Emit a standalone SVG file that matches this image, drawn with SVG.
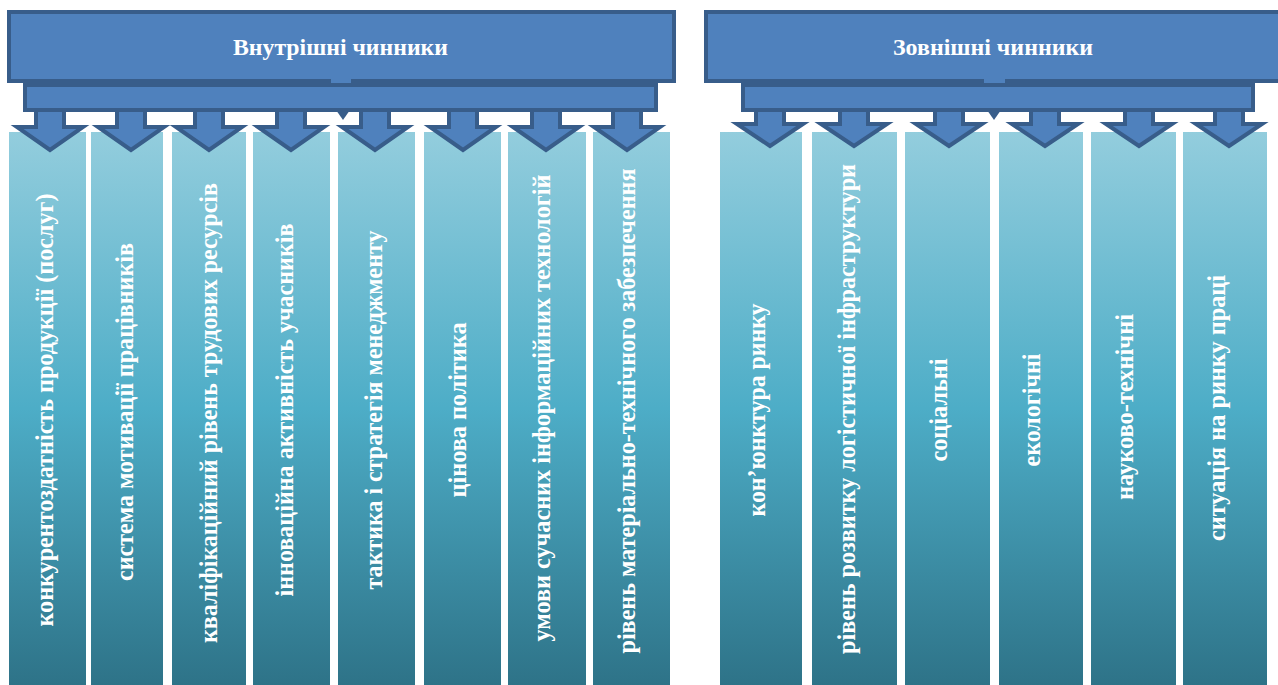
<svg xmlns="http://www.w3.org/2000/svg" width="1278" height="685" viewBox="0 0 1278 685">
<defs>
<linearGradient id="colGrad" x1="0" y1="0" x2="0" y2="1">
<stop offset="0" stop-color="#93CDDD"/>
<stop offset="0.5" stop-color="#4DADC7"/>
<stop offset="1" stop-color="#2E7388"/>
</linearGradient>
<style>
.hdr{fill:#4F81BD;stroke:#385D8A;stroke-width:4}
.tab{fill:#4F81BD}
.notch{fill:#385D8A}
.arr{fill:#4F81BD;stroke:#385D8A;stroke-width:4;stroke-linejoin:miter}
.col{fill:url(#colGrad)}
.ttl{font-family:"Liberation Serif","Times New Roman",serif;font-weight:bold;font-size:24px;fill:#FFFFFF;text-anchor:middle}
.vt{font-family:"Liberation Serif","Times New Roman",serif;font-weight:bold;font-size:25px;fill:#FFFFFF;text-anchor:middle}
</style>
</defs>
<rect width="1278" height="685" fill="#FFFFFF"/>

<!-- Columns (internal factors) -->
<g id="col-l1"><rect class="col" x="9" y="132" width="77" height="553"/><text class="vt" transform="translate(53,410) rotate(-90)" textLength="433" lengthAdjust="spacingAndGlyphs">конкурентоздатність продукції (послуг)</text></g>
<g id="col-l2"><rect class="col" x="91" y="132" width="72" height="553"/><text class="vt" transform="translate(133,412) rotate(-90)" textLength="338" lengthAdjust="spacingAndGlyphs">система мотивації працівників</text></g>
<g id="col-l3"><rect class="col" x="172" y="132" width="74" height="553"/><text class="vt" transform="translate(217,413) rotate(-90)" textLength="460" lengthAdjust="spacingAndGlyphs">кваліфікаційний рівень трудових ресурсів</text></g>
<g id="col-l4"><rect class="col" x="253" y="132" width="77" height="553"/><text class="vt" transform="translate(293,410) rotate(-90)" textLength="373" lengthAdjust="spacingAndGlyphs">інноваційна активність учасників</text></g>
<g id="col-l5"><rect class="col" x="338" y="132" width="77" height="553"/><text class="vt" transform="translate(382,410) rotate(-90)" textLength="359" lengthAdjust="spacingAndGlyphs">тактика і стратегія менеджменту</text></g>
<g id="col-l6"><rect class="col" x="424" y="132" width="77" height="553"/><text class="vt" transform="translate(466,410) rotate(-90)" textLength="175" lengthAdjust="spacingAndGlyphs">цінова політика</text></g>
<g id="col-l7"><rect class="col" x="508" y="132" width="78" height="553"/><text class="vt" transform="translate(550,408) rotate(-90)" textLength="467" lengthAdjust="spacingAndGlyphs">умови сучасних інформаційних технологій</text></g>
<g id="col-l8"><rect class="col" x="593" y="132" width="77" height="553"/><text class="vt" transform="translate(635,411) rotate(-90)" textLength="485" lengthAdjust="spacingAndGlyphs">рівень матеріально-технічного забезпечення</text></g>

<!-- Columns (external factors) -->
<g id="col-r1"><rect class="col" x="720" y="132" width="82" height="553"/><text class="vt" transform="translate(765,410) rotate(-90)" textLength="213" lengthAdjust="spacingAndGlyphs">кон’юнктура ринку</text></g>
<g id="col-r2"><rect class="col" x="812" y="132" width="85" height="553"/><text class="vt" transform="translate(855,409) rotate(-90)" textLength="490" lengthAdjust="spacingAndGlyphs">рівень розвитку логістичної інфраструктури</text></g>
<g id="col-r3"><rect class="col" x="905" y="132" width="85" height="553"/><text class="vt" transform="translate(947,410) rotate(-90)" textLength="103" lengthAdjust="spacingAndGlyphs">соціальні</text></g>
<g id="col-r4"><rect class="col" x="999" y="132" width="84" height="553"/><text class="vt" transform="translate(1040,410) rotate(-90)" textLength="113" lengthAdjust="spacingAndGlyphs">екологічні</text></g>
<g id="col-r5"><rect class="col" x="1091" y="132" width="85" height="553"/><text class="vt" transform="translate(1133,407) rotate(-90)" textLength="186" lengthAdjust="spacingAndGlyphs">науково-технічні</text></g>
<g id="col-r6"><rect class="col" x="1183" y="132" width="84" height="553"/><text class="vt" transform="translate(1225,408) rotate(-90)" textLength="266" lengthAdjust="spacingAndGlyphs">ситуація на ринку праці</text></g>

<!-- Connectors: block arrows -->
<g id="connectors">
<path class="arr" d="M36,106 H64 V127 H83 L50,150 L17,127 H36 Z"/>
<path class="arr" d="M117,106 H145 V127 H164 L131,150 L98,127 H117 Z"/>
<path class="arr" d="M195,106 H223 V127 H242 L209,150 L176,127 H195 Z"/>
<path class="arr" d="M277,106 H305 V127 H324 L291,150 L258,127 H277 Z"/>
<path class="arr" d="M361,106 H389 V127 H408 L375,150 L342,127 H361 Z"/>
<path class="arr" d="M449,106 H477 V127 H496 L463,150 L430,127 H449 Z"/>
<path class="arr" d="M532,106 H560 V127 H579 L546,150 L513,127 H532 Z"/>
<path class="arr" d="M613,106 H641 V127 H660 L627,150 L594,127 H613 Z"/>

<path class="arr" d="M756,106 H784 V124 H803 L770,146 L737,124 H756 Z"/>
<path class="arr" d="M840,106 H868 V124 H887 L854,146 L821,124 H840 Z"/>
<path class="arr" d="M935,106 H963 V124 H982 L949,146 L916,124 H935 Z"/>
<path class="arr" d="M1031,106 H1059 V124 H1078 L1045,146 L1012,124 H1031 Z"/>
<path class="arr" d="M1125,106 H1153 V124 H1172 L1139,146 L1106,124 H1125 Z"/>
<path class="arr" d="M1215,106 H1243 V124 H1262 L1229,146 L1196,124 H1215 Z"/>
<polygon class="notch" points="336,110 350,110 343,120"/>
<polygon class="notch" points="987,110 1001,110 994,120"/>
</g>

<!-- Header: internal factors -->
<g id="hdr-internal">
<rect class="hdr" x="25" y="85" width="631" height="25"/>
<rect class="hdr" x="9" y="12" width="665" height="69"/>
<rect class="tab" x="331" y="78" width="20" height="5"/>
<text class="ttl" x="340.5" y="55" textLength="215" lengthAdjust="spacingAndGlyphs">Внутрішні чинники</text>
</g>

<!-- Header: external factors -->
<g id="hdr-external">
<rect class="hdr" x="743" y="85" width="510" height="25"/>
<rect class="hdr" x="706" y="12" width="580" height="69"/>
<rect class="tab" x="984" y="78" width="21" height="5"/>
<text class="ttl" x="993" y="55" textLength="200" lengthAdjust="spacingAndGlyphs">Зовнішні чинники</text>
</g>
</svg>
